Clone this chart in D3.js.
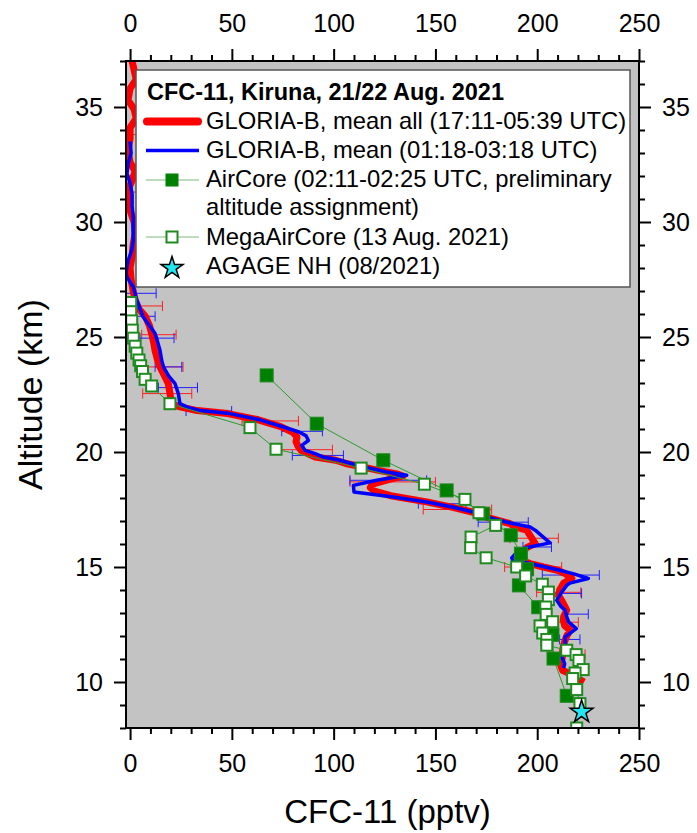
<!DOCTYPE html>
<html>
<head>
<meta charset="utf-8">
<script src="https://cdn.jsdelivr.net/npm/d3@7"></script>
<style>
  body { margin: 0; background: #fff; }
  svg { font-family: "Liberation Sans", Arial, sans-serif; }
</style>
</head>
<body>
<svg id="chart" width="697" height="833"></svg>
<script>
// GLORIA-B, mean all (17:11-05:39 UTC)
const meanAllAlt = [37.0, 36.6, 36.2, 35.8, 35.3, 34.9, 34.5, 34.1, 33.6, 33.1, 32.6, 32.2, 31.8, 31.4, 31.0, 30.5, 30.0, 29.5, 29.0, 28.5, 28.0, 27.5, 27.0, 26.6, 26.2, 25.9, 25.5, 25.15, 24.8, 24.4, 24.0, 23.7, 23.3, 22.97, 22.54, 22.1, 21.96, 21.8, 21.67, 21.4, 21.1, 20.85, 20.65, 20.45, 20.25, 20.07, 19.9, 19.78, 19.64, 19.5, 19.35, 19.2, 19.05, 18.95, 18.8, 18.6, 18.45, 18.3, 18.1, 17.83, 17.6, 17.39, 17.17, 16.89, 16.74, 16.6, 16.3, 16.02, 15.85, 15.65, 15.4, 15.29, 15.15, 15.0, 14.86, 14.7, 14.5, 14.3, 14.0, 13.75, 13.55, 13.3, 13.12, 12.85, 12.68, 12.45, 12.25, 12.0, 11.81, 11.6, 11.38, 11.15, 10.94, 10.8, 10.5, 10.37, 10.15, 10.0];
const meanAllVal = [1, 2, 3, 0, -1, 2, 3, 0, 0, -1, 0, 2.5, 1, -1, -1, 0, 2, 2.5, 1.5, 1, 0, 0.5, 1.5, 2.5, 4.5, 7.5, 9.5, 10.6, 11.5, 12.3, 13.5, 14.7, 17, 18.8, 19.6, 20.4, 24.5, 33, 48, 63, 74, 80, 82, 81.5, 82.5, 84, 88, 91, 101, 106, 114, 122, 131, 134, 127, 119, 118, 120, 128, 145.7, 158, 168, 175, 186.6, 189, 194.8, 197, 199, 195, 193, 191.6, 192, 196.5, 203, 210, 214, 217, 213, 211, 210.5, 212, 213.5, 214.5, 213, 212.8, 213.5, 216.1, 214.5, 213.7, 213, 212.5, 212.5, 212, 211.2, 212.5, 216, 220, 223];

// GLORIA-B, mean (01:18-03:18 UTC)
const meanNightAlt = [33.5, 33.0, 32.5, 32.1, 31.7, 31.2, 30.7, 30.2, 29.7, 29.2, 28.77, 28.3, 27.8, 27.6, 27.17, 26.6, 26.2, 25.87, 25.5, 25.15, 24.8, 24.42, 24.0, 23.7, 23.3, 22.97, 22.54, 22.1, 21.96, 21.8, 21.67, 21.4, 21.1, 20.87, 20.7, 20.5, 20.29, 20.07, 19.93, 19.78, 19.64, 19.35, 19.13, 18.99, 18.77, 18.55, 18.26, 18.04, 17.83, 17.6, 17.39, 17.17, 16.89, 16.74, 16.6, 16.3, 16.05, 15.85, 15.65, 15.4, 15.29, 15.15, 14.86, 14.7, 14.5, 14.3, 14.2, 13.91, 13.55, 13.3, 13.12, 12.83, 12.6, 12.32, 11.96, 11.52, 11.09, 10.8, 10.6];
const meanNightVal = [0, 0.5, -1, -1.5, 0, 1, 1, 1.5, 1.5, 1.5, 0.8, -1, -2, -1.5, 1.6, 3.3, 5, 6.5, 9.5, 12.3, 13.5, 14.7, 15.5, 16.4, 19, 22.1, 23.7, 24.5, 27.8, 34.4, 49, 63.8, 75, 83, 86.5, 87.6, 84.3, 86, 90.9, 95, 103.1, 114.6, 126, 135.9, 121.2, 109.7, 110, 129.3, 145.7, 158.8, 168.6, 175.2, 188, 196.5, 199, 203, 206.3, 195, 190, 187.5, 188, 196.5, 211, 218, 225.1, 216, 214.5, 212, 209.6, 211.5, 213.7, 214.5, 215.5, 219.2, 213.7, 213.7, 212.1, 213.5, 213];

// error bars (altitude, low end, high end)
const errAllAlt = [33.8, 32.5, 31.3, 26.35, 25.1, 23.7, 22.54, 21.35, 20.1, 18.7, 17.5, 16.25, 15.0, 13.9, 12.6, 11.2];
const errAllLo = [-2, -2, -2, -3, 5.7, 6, 6.2, 55, 72.8, 108, 144, 186.6, 184, 199.7, 205, 212];
const errAllHi = [4, 3, 4, 15.9, 22.6, 26, 30.3, 82.7, 99.4, 150, 177.6, 210.4, 212, 221.4, 220.2, 223.5];
const errNightAlt = [32.0, 26.9, 25.9, 24.95, 23.7, 22.8, 21.78, 20.9, 19.85, 18.77, 17.75, 16.95, 15.87, 14.65, 13.85, 12.95, 11.85];
const errNightLo = [-3, -2, 3.3, 4.9, 12.3, 13.9, 27.5, 74.5, 79.7, 108, 141.6, 171, 193, 202.5, 203, 214.5, 211];
const errNightHi = [3, 12.8, 12.3, 21.6, 25.4, 33.1, 49.9, 94.5, 104.8, 145.7, 165, 195.6, 207, 230.5, 221.8, 225.1, 221];

// AirCore (02:11-02:25 UTC)
const airCoreAlt = [23.33, 21.23, 19.64, 18.33, 17.32, 16.38, 15.58, 14.9, 14.2, 13.25, 12.05, 11.02, 9.4];
const airCoreVal = [67.1, 91.7, 124.4, 155.5, 173.5, 187, 192, 195, 191, 200.5, 207.5, 208, 214.5];

// MegaAirCore (13 Aug. 2021)
const megaAlt = [26.5, 26.1, 25.7, 25.3, 24.95, 24.6, 24.3, 24.0, 23.75, 23.5, 23.16, 22.87, 22.1, 21.06, 20.12, 19.3, 18.6, 17.94, 17.36, 16.81, 16.3, 15.84, 15.4, 15.0, 14.61, 14.25, 13.91, 13.58, 13.26, 12.94, 12.62, 12.44, 12.13, 11.85, 11.6, 11.38, 11.19, 10.94, 10.54, 10.39, 10.15, 9.67, 9.06, 8.0];
const megaVal = [0.3, 0.3, 0.8, 1.1, 1.6, 2.5, 3.3, 4.4, 5.2, 6.1, 7.4, 10.6, 19.6, 58.9, 71.7, 113.5, 144.6, 164.5, 171.4, 179.6, 167.5, 167.3, 174.9, 189.9, 194.3, 202.5, 205.5, 205.5, 204.2, 204.4, 207.6, 201.4, 202.7, 204.7, 204.7, 214.5, 219.1, 220.5, 222.6, 218.6, 217.4, 219.4, 221, 219.4];

// AGAGE NH (08/2021)
const agageAlt = [8.74];
const agageVal = [221.8];

const xTicks = [0, 50, 100, 150, 200, 250];
const yTicks = [10, 15, 20, 25, 30, 35];

const legendTitle = 'CFC-11, Kiruna, 21/22 Aug. 2021';
const legendLabels = [
  'GLORIA-B, mean all (17:11-05:39 UTC)',
  'GLORIA-B, mean (01:18-03:18 UTC)',
  'AirCore (02:11-02:25 UTC, preliminary',
  'altitude assignment)',
  'MegaAirCore (13 Aug. 2021)',
  'AGAGE NH (08/2021)'
];

const svg = d3.select('#chart');
const margin = {left: 126, right: 58, top: 61, bottom: 105};
const W = 697, H = 833;
const x = d3.scaleLinear().domain([-2, 250]).range([margin.left, W - margin.right]);
const y = d3.scaleLinear().domain([8, 37]).range([H - margin.bottom, margin.top]);
const [x0, x1] = x.range();
const [y0, y1] = y.range();

svg.append('defs').append('clipPath').attr('id', 'plotclip')
  .append('rect').attr('x', x0).attr('y', y1).attr('width', x1 - x0).attr('height', y0 - y1);

// plot background
svg.append('rect').attr('x', x0).attr('y', y1).attr('width', x1 - x0).attr('height', y0 - y1)
  .attr('fill', '#c3c3c3');

const zip = (a, b) => a.map((d, i) => ({alt: d, v: b[i]}));
const line = d3.line().x(d => x(d.v)).y(d => y(d.alt));

const plot = svg.append('g').attr('clip-path', 'url(#plotclip)');

// error bars
function drawErr(alts, lo, hi, color) {
  const g = plot.append('g').attr('stroke', color).attr('stroke-width', 1).attr('fill', 'none');
  alts.forEach((a, i) => {
    const yy = y(a);
    g.append('line').attr('x1', x(lo[i])).attr('x2', x(hi[i])).attr('y1', yy).attr('y2', yy);
    g.append('line').attr('x1', x(lo[i])).attr('x2', x(lo[i])).attr('y1', yy - 5).attr('y2', yy + 5);
    g.append('line').attr('x1', x(hi[i])).attr('x2', x(hi[i])).attr('y1', yy - 5).attr('y2', yy + 5);
  });
}
drawErr(errAllAlt, errAllLo, errAllHi, '#ff2020');
drawErr(errNightAlt, errNightLo, errNightHi, '#2020ff');

plot.append('path').datum(zip(meanAllAlt, meanAllVal)).attr('d', line)
  .attr('fill', 'none').attr('stroke', '#ff0000').attr('stroke-width', 7).attr('stroke-linejoin', 'round');
plot.append('path').datum(zip(meanNightAlt, meanNightVal)).attr('d', line)
  .attr('fill', 'none').attr('stroke', '#0000ff').attr('stroke-width', 3.5).attr('stroke-linejoin', 'round');

// AirCore + MegaAirCore connecting lines
plot.append('path').datum(zip(megaAlt, megaVal)).attr('d', line)
  .attr('fill', 'none').attr('stroke', '#2e9a2e').attr('stroke-width', 1);
plot.append('path').datum(zip(airCoreAlt, airCoreVal)).attr('d', line)
  .attr('fill', 'none').attr('stroke', '#2e9a2e').attr('stroke-width', 1);

const sq = 11;
plot.selectAll('.air').data(zip(airCoreAlt, airCoreVal)).enter().append('rect')
  .attr('class', 'air')
  .attr('x', d => x(d.v) - sq / 2 - 1).attr('y', d => y(d.alt) - sq / 2 - 1)
  .attr('width', sq + 2).attr('height', sq + 2)
  .attr('fill', '#008000').attr('stroke', '#1f8a1f').attr('stroke-width', 1);
plot.selectAll('.mega').data(zip(megaAlt, megaVal)).enter().append('rect')
  .attr('class', 'mega')
  .attr('x', d => x(d.v) - sq / 2).attr('y', d => y(d.alt) - sq / 2)
  .attr('width', sq).attr('height', sq)
  .attr('fill', '#ffffff').attr('stroke', '#1f8a1f').attr('stroke-width', 2);

const star = d3.symbol().type(d3.symbolStar).size(160);
plot.selectAll('.agage').data(zip(agageAlt, agageVal)).enter().append('path')
  .attr('d', star)
  .attr('transform', d => `translate(${x(d.v)},${y(d.alt) + 1})`)
  .attr('fill', '#22e6f0').attr('stroke', '#000').attr('stroke-width', 1.5);

// axes
const minorX = d3.range(0, 251, 10).filter(v => v % 50 !== 0);
const minorY = d3.range(8, 38, 1).filter(v => v % 5 !== 0);
function styleAxis(g) {
  g.select('.domain').remove();
  g.selectAll('.tick line').attr('stroke', '#000').attr('stroke-width', 2);
  g.selectAll('text').attr('font-size', 25).attr('fill', '#000')
    .attr('font-family', '"Liberation Sans", Arial, sans-serif');
}
function axisPair(maker, scale, major, minor, pos, pad) {
  svg.append('g').attr('transform', pos)
    .call(maker(scale).tickValues(major).tickSize(12).tickPadding(pad).tickFormat(d3.format('d')))
    .call(styleAxis);
  svg.append('g').attr('transform', pos)
    .call(maker(scale).tickValues(minor).tickSize(6).tickFormat(''))
    .call(styleAxis);
}
axisPair(d3.axisBottom, x, xTicks, minorX, `translate(0,${y0})`, 14);
axisPair(d3.axisTop, x, xTicks, minorX, `translate(0,${y1})`, 17);
axisPair(d3.axisLeft, y, yTicks, minorY, `translate(${x0},0)`, 11);
axisPair(d3.axisRight, y, yTicks, minorY, `translate(${x1},0)`, 11);

// frame
svg.append('rect').attr('x', x0).attr('y', y1).attr('width', x1 - x0).attr('height', y0 - y1)
  .attr('fill', 'none').attr('stroke', '#000').attr('stroke-width', 2);

// axis titles
svg.append('text').attr('x', (x0 + x1) / 2 + 5).attr('y', 823)
  .attr('text-anchor', 'middle').attr('font-size', 33).text('CFC-11 (pptv)');
svg.append('text').attr('transform', `translate(42,${(y0 + y1) / 2}) rotate(-90)`)
  .attr('text-anchor', 'middle').attr('font-size', 34).text('Altitude (km)');

// legend
const lg = svg.append('g');
lg.append('rect').attr('x', 136).attr('y', 70).attr('width', 494).attr('height', 217)
  .attr('fill', '#fff').attr('stroke', '#555').attr('stroke-width', 1.5);
lg.append('text').attr('x', 147).attr('y', 100).attr('font-size', 23.5).attr('font-weight', 'bold')
  .text(legendTitle);
const tx = 206, sx0 = 145, sx1 = 200, sc = 172;
const rowsY = [129, 158, 187, 215, 245, 274];
legendLabels.forEach((t, i) => {
  lg.append('text').attr('x', tx).attr('y', rowsY[i]).attr('font-size', 23.8).text(t);
});
lg.append('line').attr('x1', sx0 + 2).attr('x2', sx1 - 2).attr('y1', 121.5).attr('y2', 121.5)
  .attr('stroke', '#ff0000').attr('stroke-width', 8).attr('stroke-linecap', 'round');
lg.append('line').attr('x1', sx0 + 1).attr('x2', sx1 - 1).attr('y1', 150.5).attr('y2', 150.5)
  .attr('stroke', '#0000ff').attr('stroke-width', 3.5);
[180, 237].forEach((yy, i) => {
  lg.append('line').attr('x1', sx0 + 1).attr('x2', sx1 - 1).attr('y1', yy).attr('y2', yy)
    .attr('stroke', '#7fb87f').attr('stroke-width', 1);
  if (i === 0) {
    lg.append('rect').attr('x', sc - 6.5).attr('y', yy - 6.5).attr('width', 13).attr('height', 13)
      .attr('fill', '#008000');
  } else {
    lg.append('rect').attr('x', sc - 5.5).attr('y', yy - 5.5).attr('width', 11).attr('height', 11)
      .attr('fill', '#fff').attr('stroke', '#1f8a1f').attr('stroke-width', 2);
  }
});
lg.append('path').attr('d', d3.symbol().type(d3.symbolStar).size(150))
  .attr('transform', `translate(${sc},268)`)
  .attr('fill', '#22e6f0').attr('stroke', '#000').attr('stroke-width', 1.5);
</script>
</body>
</html>
